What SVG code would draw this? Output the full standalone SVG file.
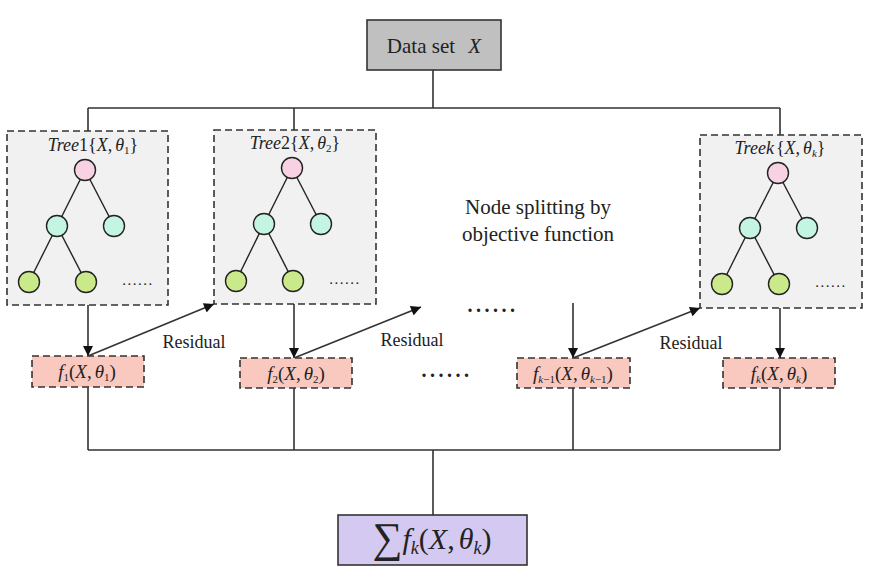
<svg xmlns="http://www.w3.org/2000/svg" width="869" height="579" viewBox="0 0 869 579">
<style>
.t{font-family:"Liberation Serif","Times New Roman",serif;fill:#222}
.i{font-style:italic}
.ln{stroke:#333;stroke-width:1.6;fill:none}
.tree{fill:#f1f1f1;stroke:#333;stroke-width:1.6;stroke-dasharray:7 4}
.fbox{fill:#f9c8bf;stroke:#333;stroke-width:1.6;stroke-dasharray:7 4}
.edge{stroke:#222;stroke-width:1.4}
.root{fill:#f8d2e2;stroke:#222;stroke-width:1.4}
.mid{fill:#c4f5e2;stroke:#222;stroke-width:1.4}
.leaf{fill:#c9e98a;stroke:#222;stroke-width:1.4}
.dots{font-size:15px;letter-spacing:1.5px}
.bdots{font-size:20px;font-weight:bold;letter-spacing:3.5px}
</style>
<defs>
<marker id="ah" viewBox="0 0 10 10" refX="10" refY="5" markerWidth="11" markerHeight="10" markerUnits="userSpaceOnUse" orient="auto">
<path d="M0,0 L10,5 L0,10 z" fill="#111"/>
</marker>
</defs>
<rect width="869" height="579" fill="#fff"/>

<g id="connectors">
<path class="ln" d="M433,70 V108 M88,108 H780 M88,108 V131 M294,108 V130 M780,108 V135"/>
<path class="ln" d="M88,305 V356" marker-end="url(#ah)"/>
<path class="ln" d="M294,304 V358" marker-end="url(#ah)"/>
<path class="ln" d="M573,303 V358" marker-end="url(#ah)"/>
<path class="ln" d="M780,308 V358" marker-end="url(#ah)"/>
<path class="ln" d="M88,356 L214,304" marker-end="url(#ah)"/>
<path class="ln" d="M294,358 L421,307" marker-end="url(#ah)"/>
<path class="ln" d="M573,358 L700,308" marker-end="url(#ah)"/>
<path class="ln" d="M88,387 V450 M294,388 V450 M573,388 V450 M780,388 V450 M88,450 H780 M433,450 V515"/>
<text class="t" x="194" y="348" font-size="18" text-anchor="middle">Residual</text>
<text class="t" x="412" y="346" font-size="18" text-anchor="middle">Residual</text>
<text class="t" x="691" y="349" font-size="18" text-anchor="middle">Residual</text>
</g>

<g id="dataset">
<rect x="367" y="20" width="134" height="50" fill="#c0c0c0" stroke="#333" stroke-width="1.6"/>
<text class="t" x="434" y="53" font-size="21" text-anchor="middle">Data set <tspan class="i" dx="8">X</tspan></text>
</g>

<g id="tree1">
<rect class="tree" x="7" y="131" width="161" height="174"/>
<text class="t" x="93" y="151" font-size="18" text-anchor="middle"><tspan class="i">Tree</tspan>1{<tspan class="i">X</tspan>,<tspan class="i" dx="3">θ</tspan><tspan font-size="11" dy="3">1</tspan><tspan dy="-3">}</tspan></text>
<line class="edge" x1="85" y1="170" x2="57" y2="226"/>
<line class="edge" x1="85" y1="170" x2="114" y2="226"/>
<line class="edge" x1="57" y1="226" x2="29" y2="282"/>
<line class="edge" x1="57" y1="226" x2="86" y2="282"/>
<circle class="root" cx="85" cy="170" r="10.5"/>
<circle class="mid" cx="57" cy="226" r="10.5"/>
<circle class="mid" cx="114" cy="226" r="10.5"/>
<circle class="leaf" cx="29" cy="282" r="10.5"/>
<circle class="leaf" cx="86" cy="282" r="10.5"/>
<text class="t dots" x="138" y="285" text-anchor="middle">......</text>
</g>

<g id="tree2">
<rect class="tree" x="214" y="130" width="162" height="174"/>
<text class="t" x="295" y="149" font-size="18" text-anchor="middle"><tspan class="i">Tree</tspan>2{<tspan class="i">X</tspan>,<tspan class="i" dx="3">θ</tspan><tspan font-size="11" dy="3">2</tspan><tspan dy="-3">}</tspan></text>
<line class="edge" x1="292" y1="168" x2="264" y2="224"/>
<line class="edge" x1="292" y1="168" x2="321" y2="224"/>
<line class="edge" x1="264" y1="224" x2="236" y2="281"/>
<line class="edge" x1="264" y1="224" x2="293" y2="281"/>
<circle class="root" cx="292" cy="168" r="10.5"/>
<circle class="mid" cx="264" cy="224" r="10.5"/>
<circle class="mid" cx="321" cy="224" r="10.5"/>
<circle class="leaf" cx="236" cy="281" r="10.5"/>
<circle class="leaf" cx="293" cy="281" r="10.5"/>
<text class="t dots" x="345" y="284" text-anchor="middle">......</text>
</g>

<g id="treek">
<rect class="tree" x="700" y="135" width="162" height="173"/>
<text class="t" x="780" y="154" font-size="18" text-anchor="middle"><tspan class="i">Treek</tspan><tspan dx="2">{</tspan><tspan class="i">X</tspan>,<tspan class="i" dx="3">θ</tspan><tspan class="i" font-size="11" dy="3">k</tspan><tspan dy="-3">}</tspan></text>
<line class="edge" x1="778" y1="173" x2="750" y2="228"/>
<line class="edge" x1="778" y1="173" x2="807" y2="228"/>
<line class="edge" x1="750" y1="228" x2="722" y2="284"/>
<line class="edge" x1="750" y1="228" x2="779" y2="284"/>
<circle class="root" cx="778" cy="173" r="10.5"/>
<circle class="mid" cx="750" cy="228" r="10.5"/>
<circle class="mid" cx="807" cy="228" r="10.5"/>
<circle class="leaf" cx="722" cy="284" r="10.5"/>
<circle class="leaf" cx="779" cy="284" r="10.5"/>
<text class="t dots" x="831" y="287" text-anchor="middle">......</text>
</g>

<g id="note">
<text class="t" x="538" y="214" font-size="21" text-anchor="middle">Node splitting by</text>
<text class="t" x="538" y="241" font-size="21" text-anchor="middle">objective function</text>
<text class="t bdots" x="493" y="312" text-anchor="middle">......</text>
<text class="t bdots" x="447" y="377" text-anchor="middle">......</text>
</g>

<g id="f1">
<rect class="fbox" x="32" y="356" width="112" height="31"/>
<text class="t" x="87" y="378" font-size="19" text-anchor="middle"><tspan class="i">f</tspan><tspan font-size="11" dy="3">1</tspan><tspan dy="-3">(</tspan><tspan class="i">X</tspan>,<tspan class="i" dx="3">θ</tspan><tspan font-size="11" dy="3">1</tspan><tspan dy="-3">)</tspan></text>
</g>

<g id="f2">
<rect class="fbox" x="240" y="358" width="112" height="30"/>
<text class="t" x="296" y="380" font-size="19" text-anchor="middle"><tspan class="i">f</tspan><tspan font-size="11" dy="3">2</tspan><tspan dy="-3">(</tspan><tspan class="i">X</tspan>,<tspan class="i" dx="3">θ</tspan><tspan font-size="11" dy="3">2</tspan><tspan dy="-3">)</tspan></text>
</g>

<g id="fk1">
<rect class="fbox" x="517" y="358" width="113" height="30"/>
<text class="t" x="573" y="380" font-size="19" text-anchor="middle"><tspan class="i">f</tspan><tspan class="i" font-size="11" dy="3">k</tspan><tspan font-size="11">−1</tspan><tspan dy="-3">(</tspan><tspan class="i">X</tspan>,<tspan class="i" dx="3">θ</tspan><tspan class="i" font-size="11" dy="3">k</tspan><tspan font-size="11">−1</tspan><tspan dy="-3">)</tspan></text>
</g>

<g id="fk">
<rect class="fbox" x="723" y="358" width="112" height="30"/>
<text class="t" x="779" y="380" font-size="19" text-anchor="middle"><tspan class="i">f</tspan><tspan class="i" font-size="11" dy="3">k</tspan><tspan dy="-3">(</tspan><tspan class="i">X</tspan>,<tspan class="i" dx="3">θ</tspan><tspan class="i" font-size="11" dy="3">k</tspan><tspan dy="-3">)</tspan></text>
</g>

<g id="sum">
<rect x="338" y="515" width="189" height="50" fill="#d4c9f1" stroke="#333" stroke-width="1.6"/>
<text class="t" x="432" y="549" font-size="30" text-anchor="middle"><tspan font-size="42" dy="3">∑</tspan><tspan class="i" dy="-3">f</tspan><tspan class="i" font-size="18" dy="5">k</tspan><tspan dy="-5">(</tspan><tspan class="i">X</tspan>,<tspan class="i" dx="4">θ</tspan><tspan class="i" font-size="18" dy="5">k</tspan><tspan dy="-5">)</tspan></text>
</g>
</svg>
